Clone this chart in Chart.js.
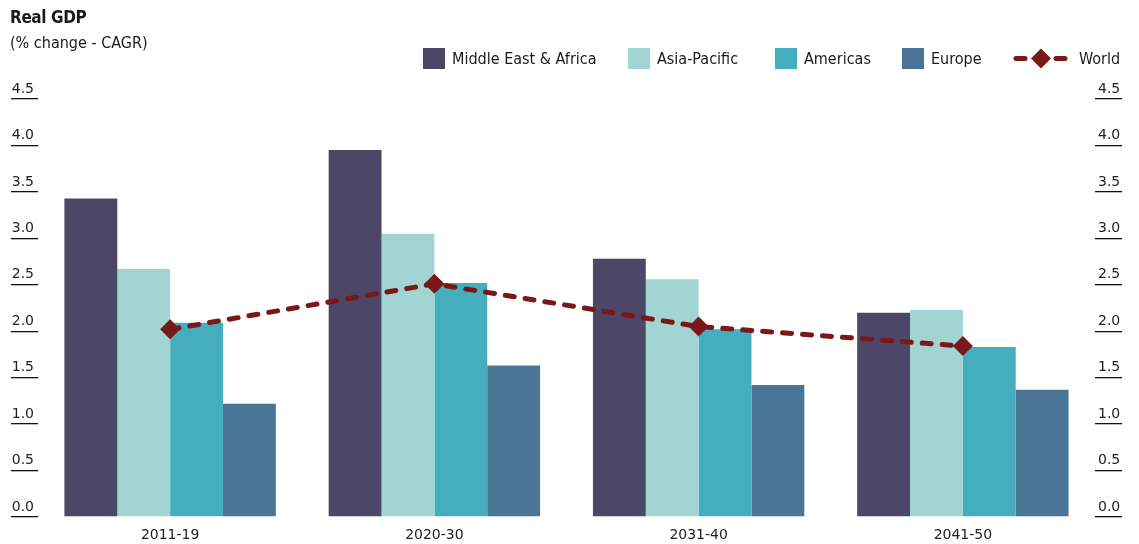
<!DOCTYPE html>
<html lang="en">
<head>
<meta charset="UTF-8">
<title>Real GDP</title>
<script src="https://cdn.jsdelivr.net/npm/chart.js"></script>
<style>
  body { margin: 0; background: #fff; font-family: "DejaVu Sans Condensed", "DejaVu Sans", sans-serif; color: #1a1a1a; }
  .wrap { position: relative; width: 1139px; height: 544px; }
  .chart-box { position: absolute; left: 0; top: 0; width: 1139px; height: 544px; }
  .title { position: absolute; left: 10px; top: 7px; font-size: 17px; font-weight: bold; letter-spacing: -0.4px; }
  .subtitle { position: absolute; left: 10px; top: 33px; font-size: 16px; }
  .legend-item { position: absolute; top: 48px; height: 21px; display: flex; align-items: center; font-size: 16px; white-space: nowrap; }
  .swatch { width: 22px; height: 21px; margin-right: 7px; }
  .legend-item svg { margin-right: 10px; }
</style>
</head>
<body>
<div class="wrap">
  <div class="chart-box"><canvas id="myChart"></canvas></div>
  <div class="title">Real GDP</div>
  <div class="subtitle">(% change - CAGR)</div>
  <div id="legend"></div>
</div>

<script>
// data
const categories = ['2011-19', '2020-30', '2031-40', '2041-50'];
const seriesNames = ['Middle East & Africa', 'Asia-Pacific', 'Americas', 'Europe', 'World'];
const middleEastAfrica = [3.43, 3.95, 2.78, 2.2];
const asiaPacific = [2.67, 3.05, 2.56, 2.23];
const americas = [2.09, 2.52, 2.02, 1.83];
const europe = [1.22, 1.63, 1.42, 1.37];
const world = [2.02, 2.51, 2.05, 1.84];
const yMin = 0, yMax = 4.5, yStep = 0.5;

const colors = ['#4c4767', '#a1d4d2', '#44adbe', '#4b7597', '#7a1719'];
const legendLeft = [423, 628, 775, 902, 1013];

// legend (html)
const legend = document.getElementById('legend');
seriesNames.forEach(function (name, i) {
    const item = document.createElement('div');
    item.className = 'legend-item';
    item.style.left = legendLeft[i] + 'px';
    if (i < 4) {
        item.innerHTML = '<div class="swatch" style="background:' + colors[i] + '"></div>';
    } else {
        item.innerHTML = '<svg width="56" height="21"><line x1="3" y1="10.5" x2="53" y2="10.5" stroke="' + colors[i] +
            '" stroke-width="5" stroke-linecap="round" stroke-dasharray="9 11"/>' +
            '<polygon points="28,0.5 38,10.5 28,20.5 18,10.5" fill="' + colors[i] + '"/></svg>';
    }
    item.appendChild(document.createTextNode(name));
    legend.appendChild(item);
});

const tickFont = { family: '"DejaVu Sans", sans-serif', size: 14 };

function barSet(label, values, color) {
    return {
        type: 'bar',
        label: label,
        data: values,
        backgroundColor: color,
        borderWidth: 0,
        categoryPercentage: 0.8,
        barPercentage: 1.0,
        yAxisID: 'y',
        order: 1
    };
}

const data = {
    labels: categories,
    datasets: [
        barSet(seriesNames[0], middleEastAfrica, colors[0]),
        barSet(seriesNames[1], asiaPacific, colors[1]),
        barSet(seriesNames[2], americas, colors[2]),
        barSet(seriesNames[3], europe, colors[3]),
        {
            type: 'line',
            label: seriesNames[4],
            data: world,
            borderColor: colors[4],
            backgroundColor: colors[4],
            borderWidth: 5,
            borderDash: [9, 11],
            borderCapStyle: 'round',
            tension: 0,
            pointStyle: 'rectRot',
            pointRadius: 10,
            pointBorderWidth: 0,
            pointBackgroundColor: colors[4],
            yAxisID: 'y',
            order: 0
        }
    ]
};

function yAxis(pos, pad, width) {
    return {
        position: pos,
        min: yMin,
        max: yMax,
        afterFit: function (s) { s.width = width; },
        border: { display: false },
        grid: { drawOnChartArea: false, drawTicks: true, tickLength: 27, tickColor: '#111', lineWidth: 1.3 },
        ticks: {
            stepSize: yStep,
            padding: pad,
            labelOffset: -10,
            color: '#222',
            font: tickFont,
            callback: function (v) { return Number(v).toFixed(1); }
        }
    };
}

const config = {
    type: 'bar',
    data: data,
    options: {
        responsive: true,
        maintainAspectRatio: false,
        animation: false,
        layout: { padding: { top: 99, bottom: 0, left: 0, right: 0 } },
        scales: {
            x: {
                afterFit: function (s) { s.height = 27; },
                border: { display: false },
                grid: { display: false },
                ticks: { color: '#222', font: tickFont, padding: 2 }
            },
            y: yAxis('left', -23, 38),
            y2: yAxis('right', -24, 44)
        },
        plugins: {
            legend: { display: false },
            tooltip: { enabled: false }
        }
    }
};

const myChart = new Chart(document.getElementById('myChart'), config);
</script>
</body>
</html>
